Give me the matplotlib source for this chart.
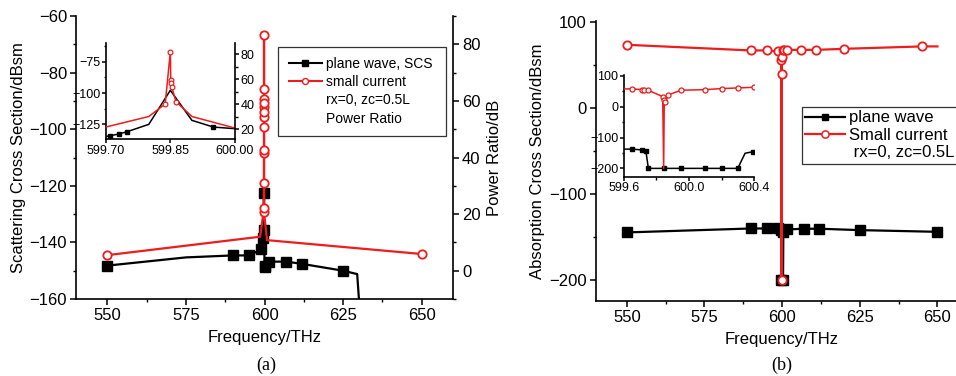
import matplotlib
matplotlib.use('Agg')
import matplotlib.pyplot as plt
from matplotlib.lines import Line2D
from matplotlib.ticker import MultipleLocator, FixedLocator, FormatStrFormatter

plt.rcParams['font.family'] = ['Liberation Sans', 'DejaVu Sans']
plt.rcParams['axes.linewidth'] = 1.2

RED = '#ee1c1c'

# ---------------- Panel (a): main ----------------
fa_pw = [550, 575, 590, 595, 599, 599.6, 599.85, 599.9, 600.0, 600.3, 601.5, 607, 612, 625, 629.5, 631]
va_pw = [-148.2, -145.3, -144.6, -144.6, -142.5, -138.6, -122.7, -135.6, -148.6, -148.2, -146.8, -146.8, -147.6, -150.0, -151.2, -175.0]
mk_a_pw = [0, 2, 3, 4, 5, 6, 7, 8, 9, 10, 11, 12, 13]

fa_sc = [550, 598.6, 599.70, 599.80, 599.83, 599.84, 599.845, 599.848, 599.85, 599.852, 599.855, 599.858, 599.86, 599.87, 599.9, 600.0, 600.8, 650]
va_sc = [5.5, 12.0, 20.8, 30.9, 41.5, 50.9, 54.2, 57.7, 83.4, 64.1, 60.5, 59.4, 56.1, 42.6, 22.0, 19.0, 10.8, 5.9]
mk_a_sc = [0, 2, 3, 4, 5, 6, 7, 8, 9, 10, 11, 12, 13, 14, 17]

# ---------------- Panel (a): inset ----------------
fi_pw = [599.70, 599.71, 599.73, 599.75, 599.80, 599.85, 599.90, 599.95, 600.00]
vi_pw = [-135.0, -134.4, -133.0, -131.1, -125.2, -97.8, -122.0, -127.4, -128.7]
mk_i_pw = [1, 2, 3, 7]

fi_sc = [599.70, 599.80, 599.838, 599.85, 599.851, 599.852, 599.853, 599.863, 599.90, 600.00]
vi_sc = [21.6, 30.1, 40.2, 82.1, 59.4, 56.8, 54.1, 42.1, 30.1, 20.8]
mk_i_sc = [2, 3, 4, 5, 6, 7]

# ---------------- Panel (b): main ----------------
fb_pw = [550, 590, 595, 598.8, 599.7, 599.75, 600.3, 600.4, 601.7, 607, 612, 625, 650]
vb_pw = [-145.0, -140.4, -140.4, -139.6, -142.3, -200.0, -200.0, -144.0, -141.5, -140.7, -140.7, -142.3, -144.3]

fb_sc = [550, 590, 595, 598.8, 599.7, 599.84, 599.842, 599.85, 600.2, 600.6, 601.7, 606, 611, 620, 645, 650]
vb_sc = [73.9, 67.3, 67.3, 66.1, 56.4, 40.0, -200.0, 59.5, 67.3, 68.0, 68.0, 68.0, 68.0, 69.2, 72.0, 72.0]
mk_b_sc = list(range(15))

# ---------------- Panel (b): inset ----------------
fj_pw = [599.6, 599.647, 599.709, 599.735, 599.75, 599.848, 599.951, 600.10, 600.20, 600.30, 600.345, 600.392]
vj_pw = [-137.5, -137.5, -140.0, -145.0, -200.0, -200.0, -200.0, -200.0, -200.0, -200.0, -151.0, -146.0]
mk_j_pw = [1, 2, 3, 4, 5, 6, 7, 8, 9, 11]

fj_sc = [599.6, 599.65, 599.71, 599.725, 599.745, 599.838, 599.844, 599.848, 599.855, 599.873, 599.95, 600.10, 600.20, 600.30, 600.40]
vj_sc = [58.0, 57.8, 55.6, 55.6, 54.5, 32.9, -200.0, 22.0, 15.6, 38.3, 53.5, 55.6, 58.9, 61.0, 63.2]
mk_j_sc = [1, 2, 3, 4, 5, 7, 8, 9, 10, 11, 12, 13, 14]

xticks_main = [550, 575, 600, 625, 650]

W, H = 956, 376
fig = plt.figure(figsize=(W / 100, H / 100), dpi=100)


def box(l, t, r, b):
    return [l / W, 1 - b / H, (r - l) / W, (b - t) / H]


def ticks(ax, size=12, major=4.5, minor=2.5):
    ax.tick_params(which='major', direction='out', length=major, width=1.1, labelsize=size, pad=2)
    ax.tick_params(which='minor', direction='out', length=minor, width=1.0)


# ===== (a) main =====
axA = fig.add_axes(box(76, 16, 453, 299))
axA.plot(fa_pw, va_pw, color='black', lw=1.6, marker='s', ms=6.5, markevery=mk_a_pw, zorder=3)
axA.set_xlim(540, 660)
axA.set_ylim(-160, -60)
axA.xaxis.set_major_locator(FixedLocator(xticks_main))
axA.xaxis.set_minor_locator(MultipleLocator(12.5))
axA.yaxis.set_major_locator(MultipleLocator(20))
axA.yaxis.set_minor_locator(MultipleLocator(10))
axA.spines['top'].set_visible(False)
axA.spines['right'].set_visible(False)
ticks(axA)
axA.set_xlabel('Frequency/THz', fontsize=12)
axA.set_ylabel('Scattering Cross Section/dBsm', fontsize=12)
axA.yaxis.set_label_coords(-0.132, 0.5)
axA.xaxis.set_label_coords(0.5, -0.11)

axA2 = axA.twinx()
axA2.plot(fa_sc, va_sc, color=RED, lw=1.6, marker='o', ms=6, mfc='white', mec=RED, mew=1.3,
          markevery=mk_a_sc, zorder=4)
axA2.set_ylim(-10, 90)
axA2.yaxis.set_major_locator(MultipleLocator(20))
axA2.yaxis.set_minor_locator(MultipleLocator(10))
for s in ['top', 'left', 'bottom']:
    axA2.spines[s].set_visible(False)
ticks(axA2)
axA2.set_ylabel('Power Ratio/dB', fontsize=12)
axA2.yaxis.set_label_coords(1.09, 0.5)

# ===== (a) inset =====
axI = fig.add_axes(box(105.7, 43.3, 235, 139))
axI.plot(fi_pw, vi_pw, color='black', lw=1.1, marker='s', ms=3.2, markevery=mk_i_pw)
axI.set_xlim(599.70, 600.00)
axI.set_ylim(-137, -60)
axI.xaxis.set_major_locator(FixedLocator([599.70, 599.85, 600.00]))
axI.xaxis.set_major_formatter(FormatStrFormatter('%.2f'))
axI.yaxis.set_major_locator(FixedLocator([-75, -100, -125]))
axI.yaxis.set_minor_locator(FixedLocator([-62.5, -87.5, -112.5]))
axI.spines['top'].set_visible(False)
axI.spines['right'].set_visible(False)
axI.patch.set_alpha(0)
ticks(axI, size=9, major=3, minor=1.8)
axI.tick_params(pad=1)

axI2 = axI.twinx()
axI2.plot(fi_sc, vi_sc, color=RED, lw=1.1, marker='o', ms=3.4, mfc='white', mec=RED, mew=0.9,
          markevery=mk_i_sc)
axI2.set_ylim(12, 89)
axI2.yaxis.set_major_locator(MultipleLocator(20))
axI2.yaxis.set_minor_locator(MultipleLocator(10))
for s in ['top', 'left', 'bottom']:
    axI2.spines[s].set_visible(False)
ticks(axI2, size=9, major=3, minor=1.8)
axI2.tick_params(pad=1)

h_blank = Line2D([], [], linestyle='none', marker=None)

hA_pw = Line2D([], [], color='black', lw=1.5, marker='s', ms=3.8)
hA_sc = Line2D([], [], color=RED, lw=1.5, marker='o', ms=4.3, mfc='white', mec=RED, mew=1.0)
legA = fig.legend([hA_pw, hA_sc, h_blank, h_blank],
                  ['plane wave, SCS', 'small current', 'rx=0, zc=0.5L', 'Power Ratio'],
                  loc='upper left', bbox_to_anchor=(278.3 / W, 1 - 46.7 / H, 167.4 / W, 0.0001),
                  mode='expand', borderaxespad=0, fontsize=10, handlelength=2.4,
                  handletextpad=0.27, labelspacing=0.3, borderpad=0.75, fancybox=False,
                  framealpha=1, edgecolor='#333333')
legA.get_frame().set_linewidth(0.9)

# ===== (b) main =====
axB = fig.add_axes(box(595.7, 20.7, 968.5, 301))
axB.plot(fb_pw, vb_pw, color='black', lw=1.6, marker='s', ms=6.5, zorder=3)
axB.plot(fb_sc, vb_sc, color=RED, lw=1.6, marker='o', ms=6, mfc='white', mec=RED, mew=1.3,
         markevery=mk_b_sc, zorder=4)
axB.set_xlim(540, 660)
axB.set_ylim(-225, 102)
axB.xaxis.set_major_locator(FixedLocator(xticks_main))
axB.xaxis.set_minor_locator(MultipleLocator(12.5))
axB.yaxis.set_major_locator(MultipleLocator(100))
axB.yaxis.set_minor_locator(MultipleLocator(50))
axB.spines['top'].set_visible(False)
axB.spines['right'].set_visible(False)
ticks(axB)
axB.set_xlabel('Frequency/THz', fontsize=12)
axB.set_ylabel('Absorption Cross Section/dBsm', fontsize=12)
axB.yaxis.set_label_coords(-0.135, 0.5)
axB.xaxis.set_label_coords(0.5, -0.11)

# ===== (b) inset =====
axJ = fig.add_axes(box(624, 75, 754, 176.7))
axJ.plot(fj_pw, vj_pw, color='black', lw=1.1, marker='s', ms=3.2, markevery=mk_j_pw, zorder=3)
axJ.plot(fj_sc, vj_sc, color=RED, lw=1.1, marker='o', ms=3.6, mfc='white', mec=RED, mew=0.9,
         markevery=mk_j_sc, zorder=4)
axJ.set_xlim(599.6, 600.4)
axJ.set_ylim(-227, 103)
axJ.xaxis.set_major_locator(FixedLocator([599.6, 600.0, 600.4]))
axJ.xaxis.set_minor_locator(FixedLocator([599.8, 600.2]))
axJ.xaxis.set_major_formatter(FormatStrFormatter('%.1f'))
axJ.yaxis.set_major_locator(FixedLocator([100, 0, -100, -200]))
axJ.yaxis.set_minor_locator(FixedLocator([50, -50, -150]))
axJ.spines['top'].set_visible(False)
axJ.spines['right'].set_visible(False)
axJ.patch.set_alpha(0)
ticks(axJ, size=9, major=3, minor=1.8)
axJ.tick_params(pad=1)

hB_pw = Line2D([], [], color='black', lw=1.6, marker='s', ms=4.5)
hB_sc = Line2D([], [], color=RED, lw=1.6, marker='o', ms=5.2, mfc='white', mec=RED, mew=1.1)
legB = fig.legend([hB_pw, hB_sc, h_blank],
                  ['plane wave', 'Small current', ' rx=0, zc=0.5L'],
                  loc='upper left', bbox_to_anchor=(801.7 / W, 1 - 106.7 / H),
                  borderaxespad=0, fontsize=12, handlelength=2.35, handletextpad=0.25,
                  labelspacing=0.15, borderpad=0.22, fancybox=False, framealpha=1,
                  edgecolor='#333333')
legB.get_frame().set_linewidth(0.9)

fig.text(266.7 / W, 1 - 365 / H, '(a)', family=['Liberation Serif', 'DejaVu Serif'],
         fontsize=13, ha='center', va='center')
fig.text(781.7 / W, 1 - 365 / H, '(b)', family=['Liberation Serif', 'DejaVu Serif'],
         fontsize=13, ha='center', va='center')

fig.savefig('out.png', dpi=100)
